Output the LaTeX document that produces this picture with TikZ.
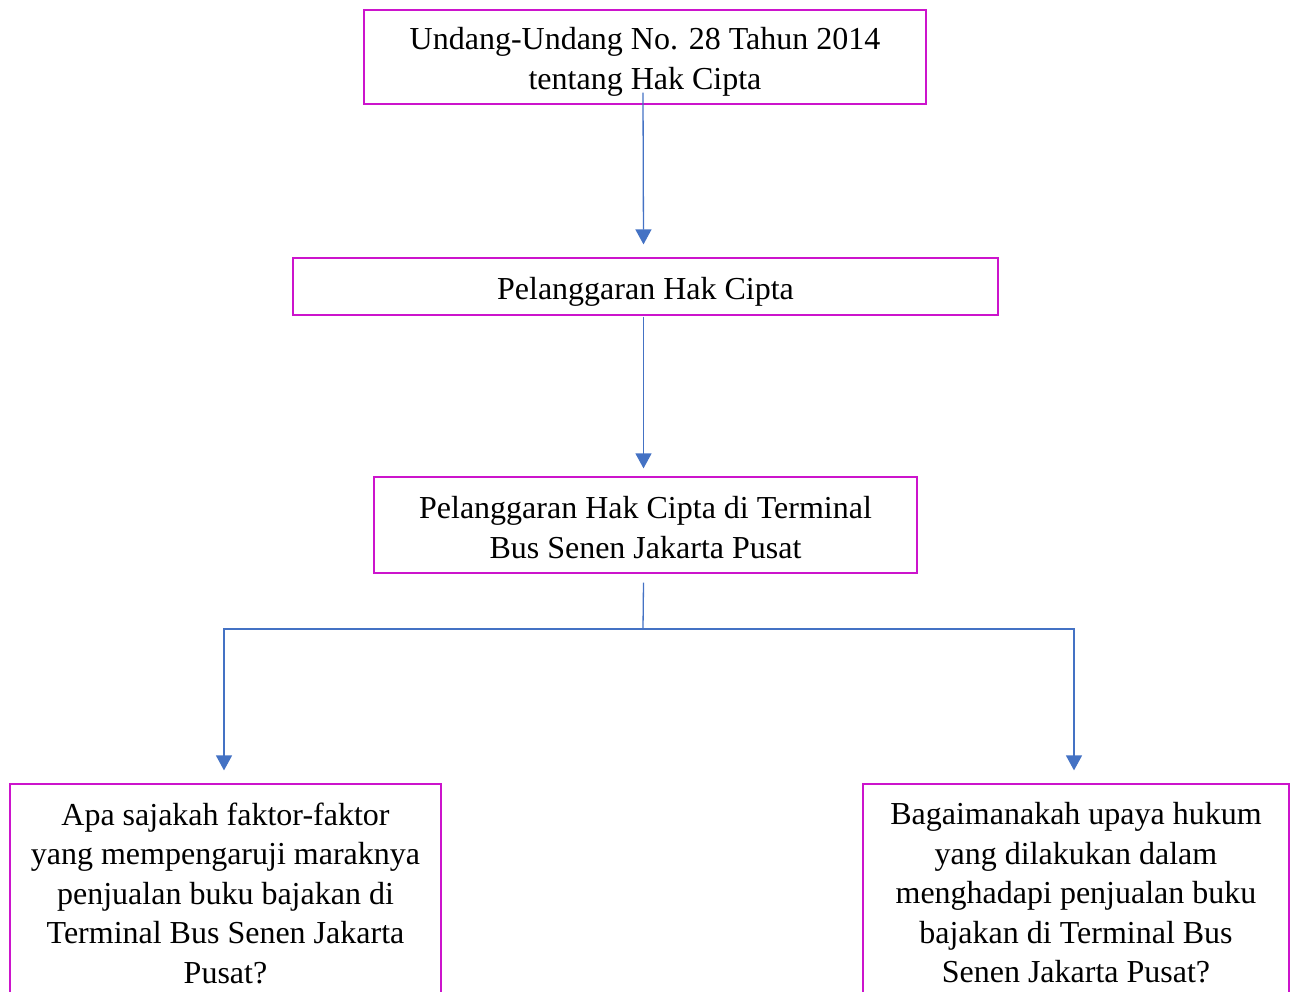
\documentclass[tikz,border=0pt]{standalone}
\usepackage{fontspec}
\setmainfont{Liberation Serif}
\usetikzlibrary{arrows.meta}
\definecolor{boxc}{RGB}{204,20,204}
\definecolor{linec}{RGB}{68,114,196}
\newcommand\tstrut[1]{\rule{0pt}{#1}}
\tikzset{
  box/.style={draw=boxc, line width=1.2pt, align=center, inner sep=0pt,
    font=\fontsize{32}{39.5}\selectfont},
  conn/.style={draw=linec, line width=1.3pt},
  arr/.style={conn, -{Triangle[width=16pt,length=15pt]}}
}
\begin{document}
\begin{tikzpicture}[x=1pt,y=-1pt]
\useasboundingbox (0,0) rectangle (1293,992);
\clip (0,0) rectangle (1293,992);
\node[box, minimum width=562pt, minimum height=94pt] (b1) at (645,57)
  {\tstrut{32pt}Undang-Undang No. 28 Tahun 2014\\tentang Hak Cipta};
\node[box, minimum width=705pt, minimum height=57pt] (b2) at (645.5,286.5)
  {\tstrut{32pt}Pelanggaran Hak Cipta};
\node[box, minimum width=543pt, minimum height=96pt] (b3) at (645.5,525)
  {\tstrut{27pt}Pelanggaran Hak Cipta di Terminal\\Bus Senen Jakarta Pusat};
\node[box, minimum width=431pt, minimum height=218pt] (b4) at (225.5,893)
  {Apa sajakah faktor-faktor\\yang mempengaruji maraknya\\penjualan buku bajakan di\\Terminal Bus Senen Jakarta\\Pusat?};
\node[box, minimum width=426pt, minimum height=218pt] (b5) at (1076,893)
  {Bagaimanakah upaya hukum\\yang dilakukan dalam\\menghadapi penjualan buku\\bajakan di Terminal Bus\\Senen Jakarta Pusat?};
\draw[arr] ([yshift=12pt,xshift=-2pt]b1.south) -- ([yshift=13pt,xshift=-2pt]b2.north);
\draw[arr] ([yshift=-1pt,xshift=-2pt]b2.south) -- ([yshift=8pt,xshift=-2pt]b3.north);
\coordinate (j) at (643,629);
\draw[conn] ([yshift=-9pt,xshift=-2pt]b3.south) -- (j);
\draw[arr] (j) -| ([yshift=13pt,xshift=-1.5pt]b4.north);
\draw[arr] (j) -| ([yshift=13pt,xshift=-2pt]b5.north);
\end{tikzpicture}
\end{document}
